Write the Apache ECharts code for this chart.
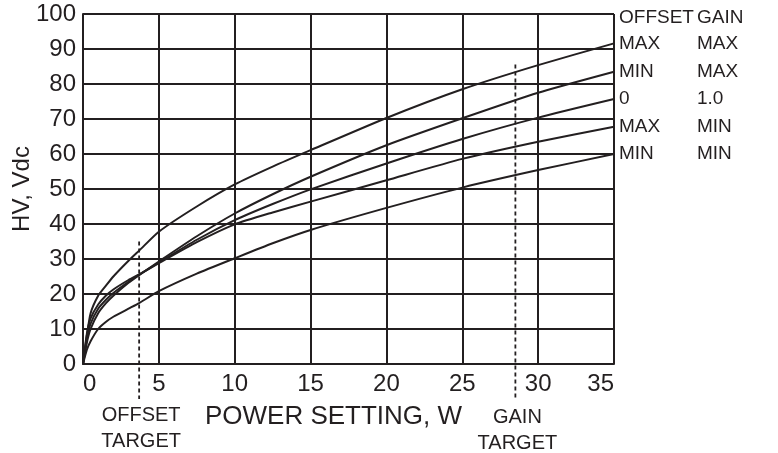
<!DOCTYPE html>
<html>
<head>
<meta charset="utf-8">
<script src="https://cdn.jsdelivr.net/npm/echarts@6/dist/echarts.min.js"></script>
<style>html,body{margin:0;padding:0;background:#fff}#c{width:778px;height:453px}</style>
</head>
<body>
<div id="c"></div>
<script>
const xValues = [0, 0.25, 0.5, 1, 1.5, 2, 3, 3.7, 5, 7.5, 10, 12.5, 15, 20, 25, 30, 35];
const curveMaxMax = [0, 8, 14.5, 19.5, 22.3, 25, 29.5, 32.4, 37.8, 45, 51.3, 56.4, 61.1, 70.3, 78.5, 85.4, 91.6];
const curveMinMax = [0, 6, 10, 14.5, 17.3, 19.5, 23.2, 25.4, 29.3, 36.5, 43, 48.5, 53.5, 62.5, 70.2, 77.5, 83.5];
const curveZeroOne = [0, 7, 11.5, 15.8, 18.3, 20.3, 23.5, 25.5, 29, 35.5, 41.1, 45.7, 49.9, 57.3, 64.3, 70.4, 75.7];
const curveMaxMin = [0, 8.5, 13, 17, 19.5, 21.3, 24, 25.6, 28.8, 34.8, 39.9, 43.3, 46.4, 52.5, 58.6, 63.5, 67.8];
const curveMinMin = [0, 4, 6.5, 10, 12, 13.5, 15.8, 17.4, 20.8, 25.8, 30.2, 34.5, 38.3, 44.6, 50.4, 55.4, 60];
const offsetLabels = ['MAX', 'MIN', '0', 'MAX', 'MIN'];
const gainLabels = ['MAX', 'MAX', '1.0', 'MIN', 'MIN'];
const headerLabels = ['OFFSET', 'GAIN'];
const offsetTargetX = [3.7, 3.7];
const offsetTargetY = [35, -10];
const gainTargetX = [28.5, 28.5];
const gainTargetY = [85.6, -10];
const xTicks = [0, 35, 5];
const yTicks = [0, 100, 10];

const INK = '#231f20';
const FONT = '"Liberation Sans", Arial, Helvetica, sans-serif';
const curves = [curveMaxMax, curveMinMax, curveZeroOne, curveMaxMin, curveMinMin];

const chart = echarts.init(document.getElementById('c'), null, {renderer: 'canvas'});

const series = curves.map((vals, i) => ({
  type: 'line',
  data: xValues.map((x, j) => [x, vals[j]]),
  smooth: 0.2,
  showSymbol: false,
  symbol: 'none',
  lineStyle: {color: INK, width: 2},
  silent: true,
  z: 5,
  endLabel: {
    show: true,
    distance: 5,
    formatter: '{a|' + offsetLabels[i] + '}{b|' + gainLabels[i] + '}',
    rich: {
      a: {width: 78, fontSize: 19, fontFamily: FONT, color: INK},
      b: {fontSize: 19, fontFamily: FONT, color: INK}
    }
  }
}));

function targetSeries(xs, ys) {
  return {
    type: 'line',
    data: xs.map((x, j) => [x, ys[j]]),
    showSymbol: false,
    symbol: 'none',
    clip: false,
    silent: true,
    lineStyle: {color: INK, width: 1.8, type: [4, 3]},
    z: 4
  };
}
series.push(targetSeries(offsetTargetX, offsetTargetY));
series.push(targetSeries(gainTargetX, gainTargetY));

chart.setOption({
  animation: false,
  backgroundColor: '#fff',
  grid: {left: 83, right: 164, top: 14, bottom: 89, outerBoundsMode: 'none', containLabel: false},
  xAxis: {
    type: 'value',
    min: xTicks[0], max: xTicks[1], interval: xTicks[2],
    name: 'POWER SETTING, W',
    nameLocation: 'middle',
    nameGap: 40,
    nameMoveOverlap: false,
    nameTextStyle: {fontSize: 26, fontFamily: FONT, color: INK, padding: [0, 30, 0, 0]},
    axisLine: {show: true, lineStyle: {color: INK, width: 2}},
    axisTick: {show: false},
    axisLabel: {fontSize: 24, fontFamily: FONT, color: INK, margin: 8, alignMinLabel: 'left', alignMaxLabel: 'right'},
    splitLine: {show: true, lineStyle: {color: INK, width: 2}}
  },
  yAxis: {
    type: 'value',
    min: yTicks[0], max: yTicks[1], interval: yTicks[2],
    name: 'HV, Vdc',
    nameLocation: 'middle',
    nameRotate: 90,
    nameGap: 49,
    nameMoveOverlap: false,
    nameTextStyle: {fontSize: 24, fontFamily: FONT, color: INK},
    axisLine: {show: true, lineStyle: {color: INK, width: 2}},
    axisTick: {show: false},
    axisLabel: {fontSize: 24, fontFamily: FONT, color: INK, margin: 7},
    splitLine: {show: true, lineStyle: {color: INK, width: 2}}
  },
  series: series
});

// header and target labels, placed through the chart's own coordinate conversion
const endPx = chart.convertToPixel({gridIndex: 0}, [xTicks[1], yTicks[1]]);
const offPx = chart.convertToPixel({gridIndex: 0}, [offsetTargetX[1], offsetTargetY[1]]);
const gainPx = chart.convertToPixel({gridIndex: 0}, [gainTargetX[1], gainTargetY[1]]);
chart.setOption({
  graphic: [
    {type: 'text', x: endPx[0] + 5, y: endPx[1] + 4, style: {text: headerLabels[0], fontSize: 19, fontFamily: FONT, fill: INK, verticalAlign: 'middle'}},
    {type: 'text', x: endPx[0] + 83, y: endPx[1] + 4, style: {text: headerLabels[1], fontSize: 19, fontFamily: FONT, fill: INK, verticalAlign: 'middle'}},
    {type: 'text', x: offPx[0] + 2, y: offPx[1] + 3, style: {text: 'OFFSET\nTARGET', fontSize: 20, lineHeight: 26, fontFamily: FONT, fill: INK, align: 'center', verticalAlign: 'top'}},
    {type: 'text', x: gainPx[0] + 2, y: gainPx[1] + 5, style: {text: 'GAIN\nTARGET', fontSize: 20, lineHeight: 26, fontFamily: FONT, fill: INK, align: 'center', verticalAlign: 'top'}}
  ]
});
</script>
</body>
</html>
